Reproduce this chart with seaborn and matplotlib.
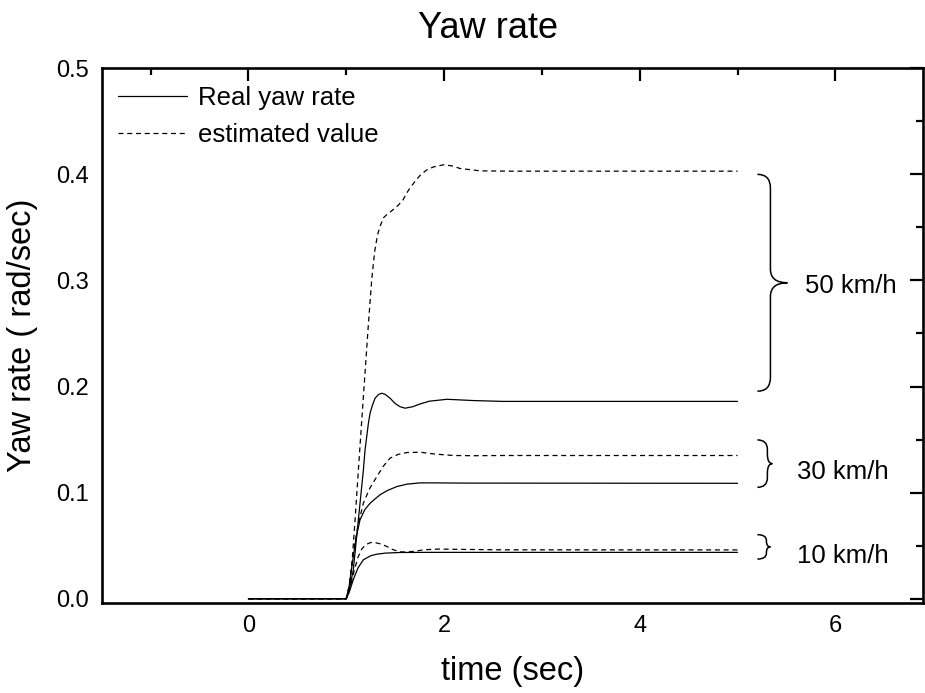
import numpy as np
import pandas as pd
import matplotlib
matplotlib.use("Agg")
import matplotlib.pyplot as plt
from matplotlib.path import Path
from matplotlib.patches import PathPatch
from matplotlib.lines import Line2D
from matplotlib.ticker import MultipleLocator, FormatStrFormatter
import seaborn as sns

# ---------------- data ----------------
t_real_10 = [0, 1.0, 1.03, 1.072, 1.12, 1.175, 1.25, 1.312, 1.4, 1.55, 1.8, 2.2, 5.0]
y_real_10 = [0, 0, 0.006, 0.018, 0.029, 0.0367, 0.0405, 0.042, 0.043, 0.0436, 0.0437, 0.0437, 0.0437]

t_est_10 = [0, 1.0, 1.04, 1.08, 1.12, 1.16, 1.2, 1.25, 1.3, 1.36, 1.42, 1.48, 1.55, 1.62, 1.7, 1.8, 1.95, 2.2, 2.6, 5.0]
y_est_10 = [0, 0, 0.01, 0.026, 0.039, 0.047, 0.051, 0.053, 0.0528, 0.0515, 0.049, 0.0462, 0.0442, 0.0440, 0.0448,
            0.0462, 0.0468, 0.0465, 0.0461, 0.0460]

t_real_30 = [0, 1.0, 1.03, 1.06, 1.1, 1.141, 1.19, 1.244, 1.3, 1.346, 1.42, 1.517, 1.62, 1.755, 1.9, 2.2, 5.0]
y_real_30 = [0, 0, 0.012, 0.032, 0.057, 0.0744, 0.084, 0.090, 0.0945, 0.098, 0.102, 0.1057, 0.108, 0.1092,
             0.1092, 0.1090, 0.1088]

t_est_30 = [0, 1.0, 1.03, 1.072, 1.12, 1.175, 1.24, 1.312, 1.38, 1.448, 1.53, 1.62, 1.755, 1.85, 1.926, 2.096,
            2.3, 2.6, 5.0]
y_est_30 = [0, 0, 0.012, 0.043, 0.069, 0.090, 0.104, 0.115, 0.125, 0.1325, 0.136, 0.1378, 0.1381, 0.137,
            0.1362, 0.1350, 0.1348, 0.1350, 0.135]

t_real_50 = [0, 1.0, 1.03, 1.072, 1.124, 1.175, 1.192, 1.226, 1.244, 1.27, 1.295, 1.33, 1.363, 1.4, 1.448, 1.5,
             1.55, 1.602, 1.68, 1.755, 1.85, 2.03, 2.3, 2.6, 5.0]
y_real_50 = [0, 0, 0.008, 0.027, 0.0744, 0.121, 0.140, 0.165, 0.175, 0.183, 0.189, 0.1925, 0.1937, 0.1925,
             0.189, 0.184, 0.181, 0.1796, 0.181, 0.1836, 0.1862, 0.188, 0.1868, 0.186, 0.186]

t_est_50 = [0, 1.0, 1.03, 1.06, 1.09, 1.124, 1.159, 1.19, 1.226, 1.26, 1.29, 1.32, 1.346, 1.38, 1.414, 1.47,
            1.533, 1.58, 1.636, 1.7, 1.755, 1.82, 1.892, 1.994, 2.08, 2.165, 2.37, 2.7, 5.0]
y_est_50 = [0, 0, 0.01, 0.035, 0.074, 0.121, 0.1685, 0.21, 0.258, 0.30, 0.327, 0.343, 0.351, 0.359, 0.362,
            0.366, 0.371, 0.376, 0.385, 0.393, 0.399, 0.404, 0.407, 0.409, 0.408, 0.4055, 0.4033, 0.403, 0.403]

kinds = ["Real yaw rate", "estimated value"]
speed_labels = ["10 km/h", "30 km/h", "50 km/h"]
x_ticks = [0, 2, 4, 6]
y_ticks = [0.0, 0.1, 0.2, 0.3, 0.4, 0.5]

series = [
    (t_real_10, y_real_10, kinds[0], "10"),
    (t_est_10, y_est_10, kinds[1], "10"),
    (t_real_30, y_real_30, kinds[0], "30"),
    (t_est_30, y_est_30, kinds[1], "30"),
    (t_real_50, y_real_50, kinds[0], "50"),
    (t_est_50, y_est_50, kinds[1], "50"),
]
df = pd.concat([pd.DataFrame({"t": t, "y": y, "kind": k, "speed": s}) for t, y, k, s in series],
               ignore_index=True)

# ---------------- style ----------------
sns.set_style("white")
plt.rcParams["font.family"] = ["Liberation Sans", "DejaVu Sans"]
plt.rcParams["text.color"] = "black"
plt.rcParams["axes.labelcolor"] = "black"
plt.rcParams["xtick.color"] = "black"
plt.rcParams["ytick.color"] = "black"

fig = plt.figure(figsize=(9.25, 6.93), dpi=100)
ax = fig.add_axes([0.1099, 0.1299, 0.8884, 0.7716])

for (sp, kd), sub in df.groupby(["speed", "kind"], sort=False):
    sns.lineplot(data=sub, x="t", y="y", ax=ax, color="black", lw=0.9,
                 estimator=None, sort=False, legend=False,
                 linestyle="-" if kd == kinds[0] else (0, (4, 3)))

ax.set_xlim(-1.5, 6.9)
ax.set_ylim(-0.004, 0.5)
ax.set_xticks(x_ticks)
ax.set_yticks(y_ticks)
ax.xaxis.set_minor_locator(MultipleLocator(1))
ax.yaxis.set_minor_locator(MultipleLocator(0.05))
ax.yaxis.set_major_formatter(FormatStrFormatter("%.1f"))
ax.tick_params(which="both", direction="in", top=True, right=True, width=1.6, colors="black",
               labelcolor="black")
ax.tick_params(which="major", length=9.5, labelsize=17, pad=9)
ax.tick_params(which="minor", length=5)
for s in ax.spines.values():
    s.set_linewidth(1.9)
    s.set_color("black")
    s.set_visible(True)

ax.set_xlabel("time (sec)", fontsize=23.5, labelpad=13, color="black")
ax.set_ylabel("Yaw rate ( rad/sec)", fontsize=23.5, labelpad=13, color="black")
fig.text(0.528, 0.945, "Yaw rate", fontsize=26, ha="center", va="baseline", color="black")

# legend
handles = [Line2D([], [], color="black", lw=0.9, linestyle="-"),
           Line2D([], [], color="black", lw=0.9, linestyle=(0, (4, 3)))]
leg = ax.legend(handles, kinds, loc="upper left", bbox_to_anchor=(0.02, 0.967), frameon=False,
                fontsize=18.5, handlelength=2.7, handletextpad=0.4, labelspacing=0.5,
                borderaxespad=0, borderpad=0)
for txt in leg.get_texts():
    txt.set_color("black")


# braces
def brace(x0, xl, xt, yb, yt, r):
    ym = (yb + yt) / 2
    verts = [(x0, yt), (xl, yt), (xl, yt - r), (xl, ym + r), (xl, ym), (xt, ym),
             (xl, ym), (xl, ym - r), (xl, yb + r), (xl, yb), (x0, yb)]
    codes = [Path.MOVETO, Path.CURVE3, Path.CURVE3, Path.LINETO, Path.CURVE3, Path.CURVE3,
             Path.CURVE3, Path.CURVE3, Path.LINETO, Path.CURVE3, Path.CURVE3]
    ax.add_patch(PathPatch(Path(verts, codes), fill=False, lw=1.1, color="black",
                           clip_on=False))


brace(5.203, 5.336, 5.51, 0.1956, 0.400, 0.013)
brace(5.203, 5.305, 5.356, 0.105, 0.1497, 0.009)
brace(5.203, 5.295, 5.336, 0.0374, 0.0604, 0.0055)

ax.text(5.694, 0.295, speed_labels[2], fontsize=18.5, va="center", ha="left", color="black")
ax.text(5.612, 0.119, speed_labels[1], fontsize=18.5, va="center", ha="left", color="black")
ax.text(5.612, 0.0406, speed_labels[0], fontsize=18.5, va="center", ha="left", color="black")

fig.savefig("out.png", dpi=100)
